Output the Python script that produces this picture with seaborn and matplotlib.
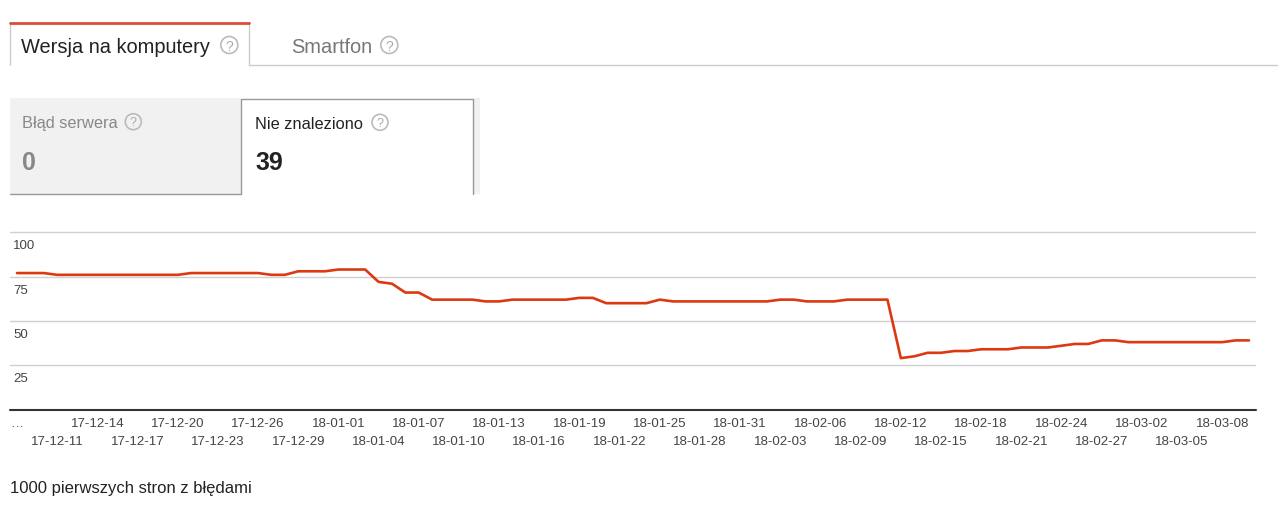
import pandas as pd
import seaborn as sns
import matplotlib.pyplot as plt
from matplotlib.patches import Rectangle, Circle

sns.set_theme(style="white")
plt.rcParams['font.family'] = ['Liberation Sans', 'DejaVu Sans']

# daily counts of "Nie znaleziono" errors, 17-12-08 .. 18-03-10
dates = pd.date_range("2017-12-08", "2018-03-10", freq="D")
errors = [77, 77, 77, 76, 76, 76, 76, 76, 76, 76, 76, 76, 76, 77, 77, 77,
          77, 77, 77, 76, 76, 78, 78, 78, 79, 79, 79, 72, 71, 66, 66, 62,
          62, 62, 62, 61, 61, 62, 62, 62, 62, 62, 63, 63, 60, 60, 60, 60,
          62, 61, 61, 61, 61, 61, 61, 61, 61, 62, 62, 61, 61, 61, 62, 62,
          62, 62, 29, 30, 32, 32, 33, 33, 34, 34, 34, 35, 35, 35, 36, 37,
          37, 39, 39, 38, 38, 38, 38, 38, 38, 38, 38, 39, 39]
tick_labels = ["…", "17-12-11", "17-12-14", "17-12-17", "17-12-20", "17-12-23",
               "17-12-26", "17-12-29", "18-01-01", "18-01-04", "18-01-07",
               "18-01-10", "18-01-13", "18-01-16", "18-01-19", "18-01-22",
               "18-01-25", "18-01-28", "18-01-31", "18-02-03", "18-02-06",
               "18-02-09", "18-02-12", "18-02-15", "18-02-18", "18-02-21",
               "18-02-24", "18-02-27", "18-03-02", "18-03-05", "18-03-08"]
y_ticks = [25, 50, 75, 100]

df = pd.DataFrame({"data": dates, "bledy": errors})

fig = plt.figure(figsize=(12.8, 5.06), dpi=100)
fig.patch.set_facecolor("white")

# background layer in pixel coordinates for the tabs and cards
bg = fig.add_axes([0, 0, 1, 1], zorder=0)
bg.set_xlim(0, 1280)
bg.set_ylim(506, 0)
bg.axis("off")

# tabs
bg.plot([10, 10], [23, 66], color="#cccccc", lw=1)
bg.plot([248.5, 248.5], [23, 66], color="#cccccc", lw=1)
bg.plot([10, 248.5], [23.5, 23.5], color="#dd4b39", lw=2)
bg.plot([248.5, 1277], [66, 66], color="#cccccc", lw=1)
bg.text(21, 52.5, "Wersja na komputery", fontsize=14.4, color="#222222", va="baseline")
bg.text(291, 52.5, "Smartfon", fontsize=14.4, color="#777777", va="baseline")


def help_icon(x, y, r, size):
    bg.add_patch(Circle((x, y), r, fill=False, ec="#bbbbbb", lw=1.2))
    bg.text(x, y + 0.5, "?", fontsize=size, color="#aaaaaa", ha="center", va="center")


help_icon(229.3, 46, 8.5, 10)
help_icon(389.3, 46, 8.5, 10)

# cards
bg.add_patch(Rectangle((10, 99), 231, 96, fc="#f1f1f1", ec="none"))
bg.add_patch(Rectangle((474, 99), 6, 96, fc="#f1f1f1", ec="none"))
bg.plot([10, 241], [195, 195], color="#999999", lw=1)
bg.plot([241, 241, 473, 473], [195, 99.5, 99.5, 195], color="#999999", lw=1)
bg.text(22, 127.7, "Błąd serwera", fontsize=11.8, color="#888888", va="baseline")
bg.text(22, 170, "0", fontsize=18, color="#888888", fontweight="bold", va="baseline")
bg.text(255, 129, "Nie znaleziono", fontsize=11.8, color="#222222", va="baseline")
bg.text(255, 170, "39", fontsize=18, color="#222222", fontweight="bold", va="baseline")
help_icon(133.3, 122.7, 8, 9)
help_icon(380, 123.3, 8, 9)

bg.text(10, 493.3, "1000 pierwszych stron z błędami", fontsize=12, color="#222222",
        va="baseline")

# chart
ax = fig.add_axes([10 / 1280, (506 - 410.5) / 506, 1246 / 1280, (410.5 - 231) / 506],
                  zorder=1)
ax.patch.set_alpha(0)
sns.lineplot(data=df, x="data", y="bledy", ax=ax, color="#dc3912", linewidth=1.9)

ax.set_xlim(dates[0] - pd.Timedelta(hours=12.5), dates[-1] + pd.Timedelta(hours=12.5))
ax.set_ylim(0, 101.3)
ax.set_yticks(y_ticks)
ax.yaxis.grid(True, color="#d0d0d0", lw=1)
ax.xaxis.grid(False)
ax.tick_params(axis="y", left=False, labelleft=False)
ax.axhline(0, color="#333333", lw=1.5, clip_on=False)
for v in y_ticks:
    ax.annotate(str(v), xy=(0, v), xycoords=ax.get_yaxis_transform(),
                xytext=(3.3, -16), textcoords="offset pixels",
                fontsize=9.5, color="#444444", ha="left", va="baseline")

# x labels in two staggered rows: upper row on major ticks, lower row on minor ticks
tick_dates = dates[::3]
ax.set_xticks(tick_dates[::2])
ax.set_xticklabels(tick_labels[::2])
ax.set_xticks(tick_dates[1::2], minor=True)
ax.set_xticklabels(tick_labels[1::2], minor=True)
ax.tick_params(axis="x", which="major", length=0, pad=5.6, labelsize=9.5, colors="#444444")
ax.tick_params(axis="x", which="minor", length=0, pad=18.2, labelsize=9.5, colors="#444444")
ax.set_xlabel("")
ax.set_ylabel("")
sns.despine(ax=ax, left=True, bottom=True)

plt.savefig("out.png", dpi=100, facecolor="white")
